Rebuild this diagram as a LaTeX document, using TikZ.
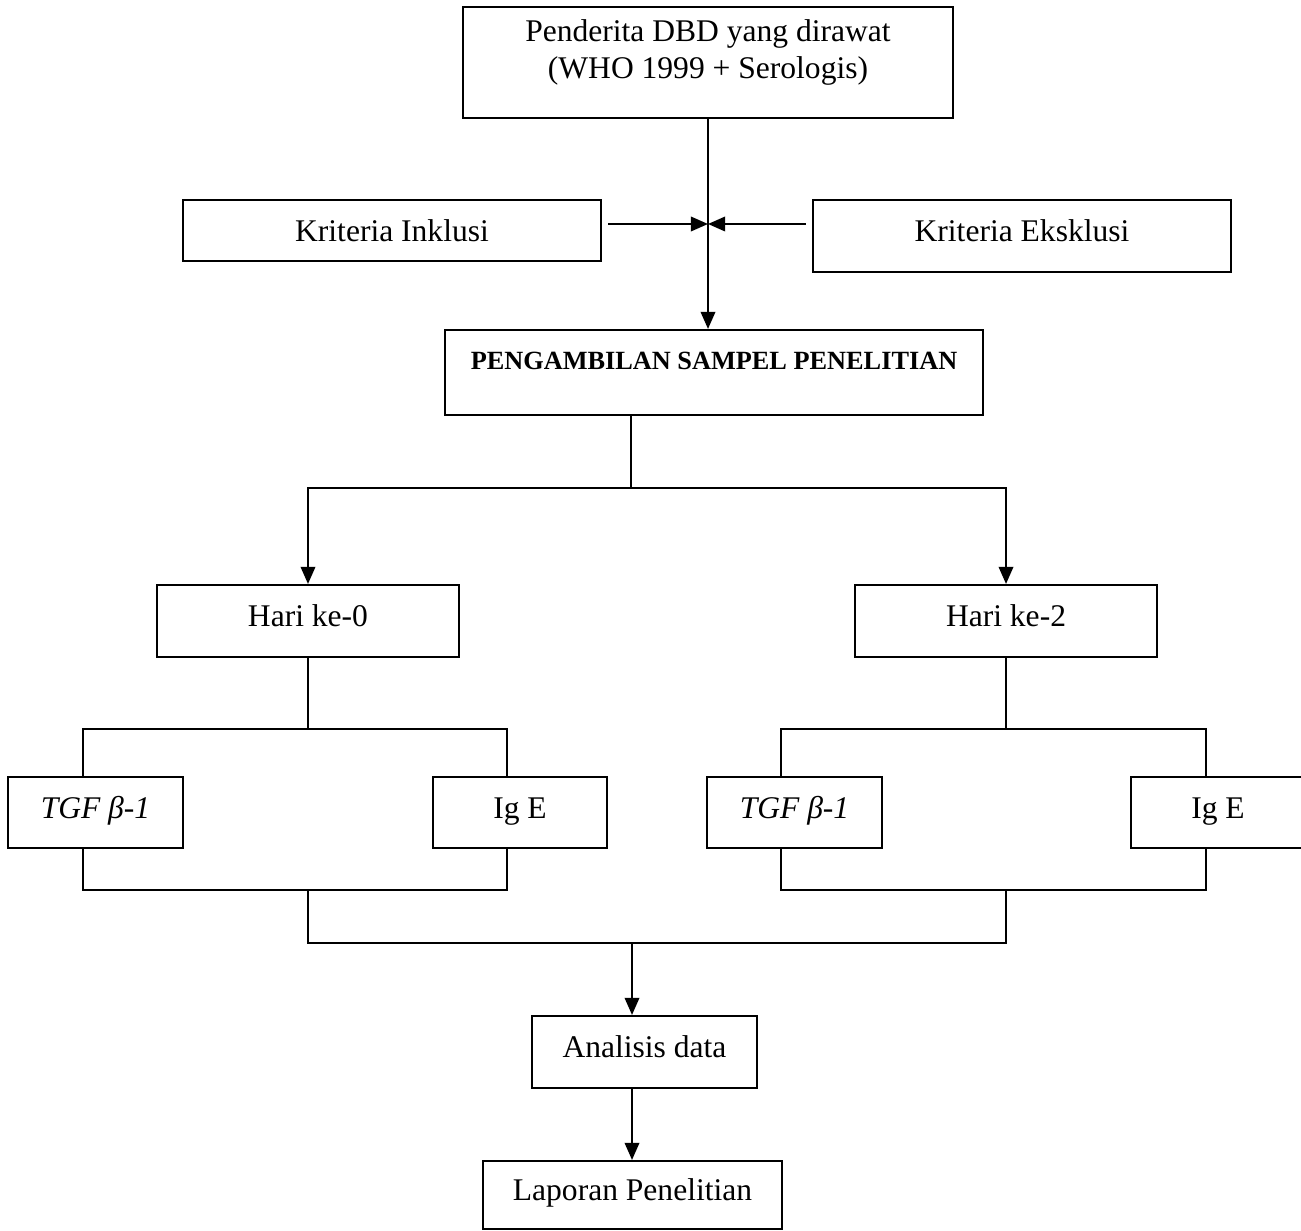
\documentclass[tikz,border=0pt]{standalone}
\usepackage{fontspec}
\setmainfont{Liberation Serif}
\usetikzlibrary{arrows.meta}
\newlength{\upx}
\setlength{\upx}{0.01336cm}

\begin{document}
\begin{tikzpicture}[x=0.01336cm, y=-0.01336cm, line width=0.8pt,
        font=\fontsize{12}{14}\selectfont,
        kotak/.style={rectangle, draw, inner sep=0pt, minimum height=72\upx, text height=9pt, text depth=4.5pt},
        panah/.style={-{Triangle[length=6.5pt,width=5.5pt]}}]
        \useasboundingbox (0,0) rectangle (1301,1230);
        \node[rectangle, draw, align=center, minimum width=490\upx, minimum height=111\upx] (pasien) at (708,62.5)
            {Penderita DBD yang dirawat\\(WHO 1999 + Serologis)\rule[-10pt]{0pt}{10pt}};
        \node[kotak, minimum width=418\upx, minimum height=61\upx, text depth=0.5pt] (inklusi) at (392,230.5) {Kriteria Inklusi};
        \node[kotak, minimum width=418\upx] (eksklusi) at (1022,236) {Kriteria Eksklusi};
        \node[kotak, minimum width=538\upx, minimum height=85\upx, text height=7.5pt, text depth=10pt,
            font=\fontsize{10}{12}\selectfont\bfseries] (sampel) at (714,372.5) {PENGAMBILAN SAMPEL PENELITIAN};
        \node[kotak, minimum width=302\upx] (hari0) at (308,621) {Hari ke-0};
        \node[kotak, minimum width=302\upx] (hari2) at (1006,621) {Hari ke-2};
        \node[kotak, minimum width=175\upx, minimum height=71\upx] (tgfA) at (95.5,812.5) {\textit{TGF β-1}};
        \node[kotak, minimum width=174\upx, minimum height=71\upx] (igeA) at (520,812.5) {Ig E};
        \node[kotak, minimum width=175\upx, minimum height=71\upx] (tgfB) at (794.5,812.5) {\textit{TGF β-1}};
        \node[kotak, minimum width=174\upx, minimum height=71\upx] (igeB) at (1218,812.5) {Ig E};
        \node[kotak, minimum width=225\upx] (analisis) at (644.5,1052) {Analisis data};
        \node[kotak, minimum width=299\upx, minimum height=68\upx] (laporan) at (632.5,1195) {Laporan Penelitian};

        \coordinate (temu) at (708,224);
        \coordinate (cabang) at (631,488);
        \coordinate (kiriA) at (83,729);
        \coordinate (kananA) at (507,729);
        \coordinate (kiriB) at (781,729);
        \coordinate (kananB) at (1206,729);
        \coordinate (bawahA) at (308,890);
        \coordinate (bawahB) at (1006,890);
        \coordinate (sambung) at (308,943);
        \coordinate (gabung) at (632,943);

        \draw[panah] (pasien.south) -- (pasien.south |- sampel.north);
        \draw[panah, shorten <=6\upx] (inklusi.east |- temu) -- (temu);
        \draw[panah, shorten <=6\upx] (eksklusi.west |- temu) -- (temu);
        \draw (sampel.south -| cabang) -- (cabang);
        \draw[panah] (cabang) -| (hari0.north);
        \draw[panah] (cabang) -| (hari2.north);

        \draw (hari0.south) -- (hari0.south |- kiriA);
        \draw (tgfA.north -| kiriA) -- (kiriA) -- (kananA) -- (igeA.north -| kananA);
        \draw (tgfA.south -| kiriA) -- (kiriA |- bawahA) -- (kananA |- bawahA) -- (igeA.south -| kananA);
        \draw (hari2.south) -- (hari2.south |- kiriB);
        \draw (tgfB.north -| kiriB) -- (kiriB) -- (kananB) -- (igeB.north -| kananB);
        \draw (tgfB.south -| kiriB) -- (kiriB |- bawahB) -- (kananB |- bawahB) -- (igeB.south -| kananB);

        \draw (bawahA) -- (sambung) -- (bawahB |- sambung) -- (bawahB);
        \draw[panah] (gabung) -- (gabung |- analisis.north);
        \draw[panah] (gabung |- analisis.south) -- (gabung |- laporan.north);
\end{tikzpicture}
\end{document}
